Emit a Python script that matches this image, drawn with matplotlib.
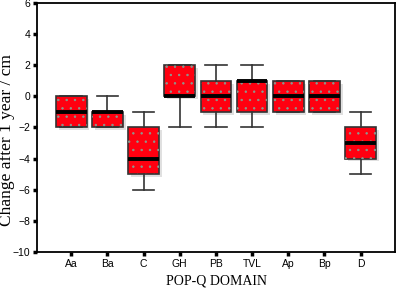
import matplotlib.pyplot as plt
import matplotlib.patheffects as pe

# box statistics
domains = ['Aa', 'Ba', 'C', 'GH', 'PB', 'TVL', 'Ap', 'Bp', 'D']
q1 = [-2, -2, -5, 0, -1, -1, -1, -1, -4]
med = [-1, -1, -4, 0, 0, 1, 0, 0, -3]
q3 = [0, -1, -2, 2, 1, 1, 1, 1, -2]
wlo = [-2, -2, -6, -2, -2, -2, -1, -1, -5]
whi = [0, 0, -1, 2, 2, 2, 1, 1, -1]

stats = []
for i in range(len(domains)):
    stats.append(dict(label=domains[i], q1=q1[i], med=med[i], q3=q3[i],
                      whislo=wlo[i], whishi=whi[i], fliers=[]))

plt.rcParams['hatch.linewidth'] = 0.5
fig = plt.figure(figsize=(3.96, 2.89), dpi=100)
ax = fig.add_axes([0.094, 0.128, 0.9035, 0.862])

pos = range(1, len(domains) + 1)
bp = ax.bxp(stats, positions=pos, widths=0.85, patch_artist=True,
            showfliers=False,
            boxprops=dict(facecolor='#ff0010', edgecolor='#333333', linewidth=1.2),
            medianprops=dict(color='black', linewidth=2.8, solid_capstyle='butt'),
            whiskerprops=dict(color='#333333', linewidth=1.2),
            capprops=dict(color='#333333', linewidth=1.2),
            capwidths=0.6)
for b in bp['boxes']:
    b.set_path_effects([pe.withSimplePatchShadow(offset=(2, -2), shadow_rgbFace='#cccccc', alpha=0.6)])
# stipple texture over the boxes
bp2 = ax.bxp(stats, positions=pos, widths=0.85, patch_artist=True,
             showfliers=False, showcaps=False,
             boxprops=dict(facecolor='none', edgecolor='#8a9a90', linewidth=0, hatch='..'),
             medianprops=dict(linewidth=0), whiskerprops=dict(linewidth=0))
for m in bp['medians']:
    m.set_zorder(5)

ax.set_ylim(-10, 6)
ax.set_xlim(0.06, 9.95)
ax.set_yticks(range(-10, 7, 2))
ax.set_xticks(list(pos))
ax.set_xticklabels(domains)
ax.tick_params(direction='out', length=3, width=2.5, labelsize=7.5, pad=2)
for t in ax.get_xticklabels() + ax.get_yticklabels():
    t.set_family('Liberation Sans')
for s in ax.spines.values():
    s.set_linewidth(1.3)
ax.set_xlabel('POP-Q DOMAIN', family='Liberation Serif', fontsize=10)
ax.set_ylabel('Change after 1 year / cm', family='Liberation Serif', fontsize=12.5)
ax.yaxis.set_label_coords(-0.062, 0.45)
ax.xaxis.set_label_coords(0.5, -0.09)

fig.savefig('out.png', dpi=100)
